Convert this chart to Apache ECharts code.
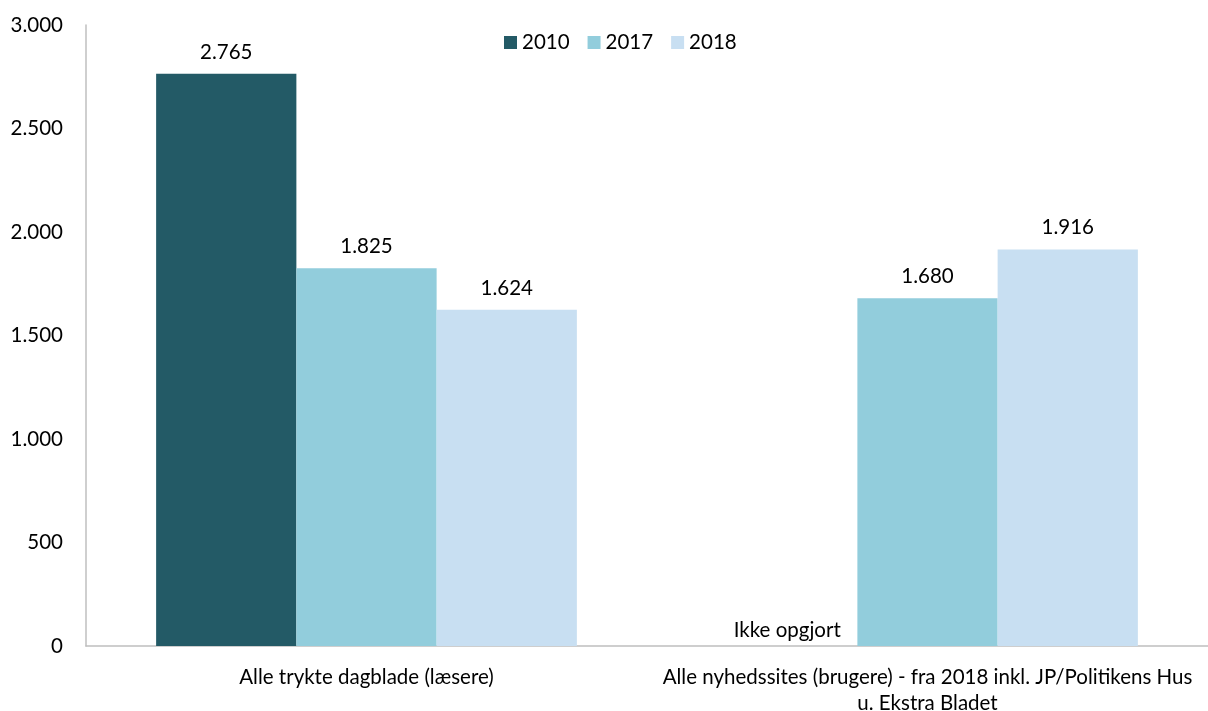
<!DOCTYPE html>
<html>
<head>
<meta charset="utf-8">
<script src="https://cdn.jsdelivr.net/npm/echarts@6/dist/echarts.min.js"></script>
<style>
  html, body { margin: 0; padding: 0; background: #fff; }
  #chart { width: 1208px; height: 711px; }
</style>
</head>
<body>
<div id="chart"></div>
<script>
// Læsere og brugere (tusinder)
const categories = [
  'Alle trykte dagblade (læsere)',
  'Alle nyhedssites (brugere) - fra 2018 inkl. JP/Politikens Hus\nu. Ekstra Bladet'
];
const years = ['2010', '2017', '2018'];
const values2010 = [2765, null];   // nyhedssites ikke opgjort i 2010
const values2017 = [1825, 1680];
const values2018 = [1624, 1916];
const yTicks = [0, 500, 1000, 1500, 2000, 2500, 3000];
const missingNote = 'Ikke opgjort';

const FONT = 'Lato, "Open Sans", sans-serif';
const FS = 20.5;
const colors = ['#235A66', '#92CDDC', '#C8DFF2'];

const fmt = v => String(v).replace(/\B(?=(\d{3})+(?!\d))/g, '.');

function seriesFor(name, values, color) {
  return {
    name: name,
    type: 'bar',
    data: values.map(v => v == null
      ? { value: 0, label: { show: true, formatter: missingNote, distance: 5 } }
      : v),
    itemStyle: { color: color },
    barGap: '0%',
    barCategoryGap: '25%',
    label: {
      show: true,
      position: 'top',
      distance: 11,
      color: '#000',
      fontFamily: FONT,
      fontSize: FS,
      formatter: p => fmt(p.value)
    }
  };
}

const chart = echarts.init(document.getElementById('chart'));
chart.setOption({
  animation: false,
  backgroundColor: '#fff',
  textStyle: { fontFamily: FONT },
  legend: {
    top: 27,
    left: 499,
    itemWidth: 13,
    itemHeight: 13,
    itemGap: 18,
    icon: 'rect',
    textStyle: { fontFamily: FONT, fontSize: FS, color: '#000' },
    data: years
  },
  grid: { left: 86, right: 0, top: 25, bottom: 65, containLabel: false, outerBoundsMode: 'none' },
  xAxis: {
    type: 'category',
    data: categories,
    axisLine: { lineStyle: { color: '#BFBFBF', width: 1.5 } },
    axisTick: { show: false },
    axisLabel: {
      color: '#000',
      fontFamily: FONT,
      fontSize: FS,
      lineHeight: 26,
      margin: 18,
      interval: 0
    }
  },
  yAxis: {
    type: 'value',
    min: yTicks[0],
    max: yTicks[yTicks.length - 1],
    interval: yTicks[1] - yTicks[0],
    axisLine: { show: true, lineStyle: { color: '#BFBFBF', width: 1.5 } },
    axisTick: { show: false },
    splitLine: { show: false },
    axisLabel: {
      color: '#000',
      fontFamily: FONT,
      fontSize: FS,
      margin: 23,
      formatter: v => fmt(v)
    }
  },
  series: [
    seriesFor(years[0], values2010, colors[0]),
    seriesFor(years[1], values2017, colors[1]),
    seriesFor(years[2], values2018, colors[2])
  ]
});
</script>
</body>
</html>
